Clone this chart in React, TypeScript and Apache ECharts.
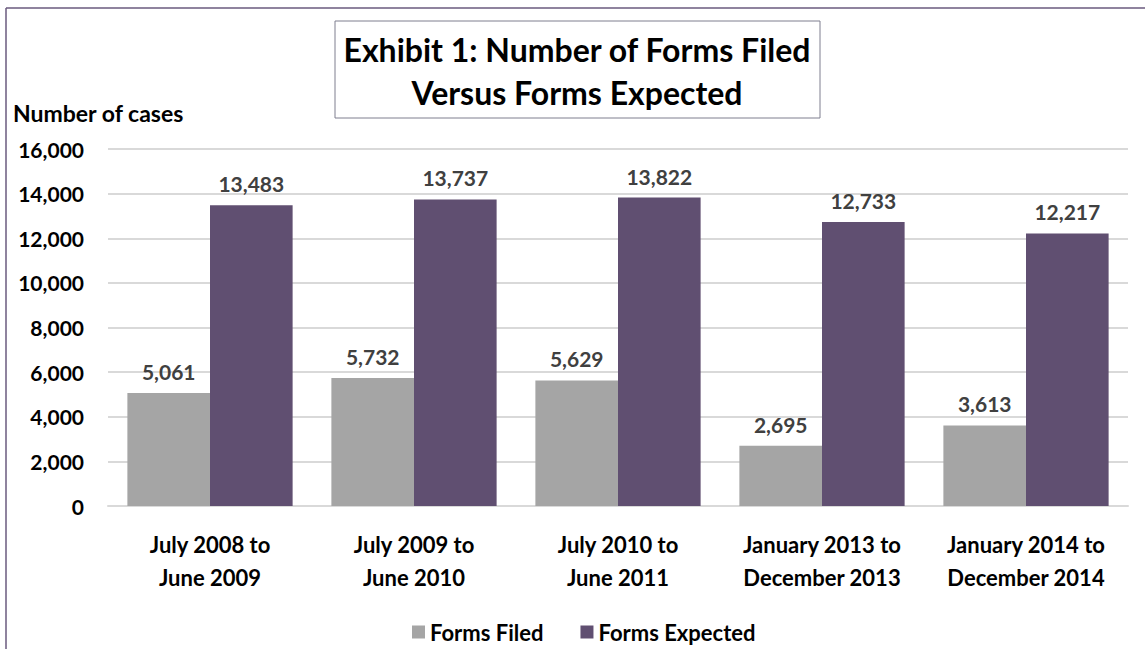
import React, { useEffect, useRef } from "react";
import * as echarts from "echarts";

const categories = [
  "July 2008 to\nJune 2009",
  "July 2009 to\nJune 2010",
  "July 2010 to\nJune 2011",
  "January 2013 to\nDecember 2013",
  "January 2014 to\nDecember 2014",
];
const formsFiled = [5061, 5732, 5629, 2695, 3613];
const formsExpected = [13483, 13737, 13822, 12733, 12217];
const seriesNames = ["Forms Filed", "Forms Expected"];
const titleLines = ["Exhibit 1: Number of Forms Filed", "Versus Forms Expected"];
const yAxisTitle = "Number of cases";

const FONT = "Lato, 'Open Sans', sans-serif";

export default function App() {
  const ref = useRef<HTMLDivElement>(null);
  useEffect(() => {
    if (!ref.current) return;
    const chart = echarts.init(ref.current, null, { renderer: "svg" });
    const fmt = (v: number) => v.toLocaleString("en-US");
    const labelCfg = {
      show: true,
      position: "top",
      distance: 11,
      color: "#404040",
      fontFamily: FONT,
      fontWeight: "bold",
      fontSize: 21,
      formatter: (p: any) => fmt(p.value),
    };
    chart.setOption({
      animation: false,
      backgroundColor: "#ffffff",
      textStyle: { fontFamily: FONT },
      grid: { left: 108, right: 17, top: 149, bottom: 143, containLabel: false },
      xAxis: {
        type: "category",
        data: categories,
        axisLine: { show: true, lineStyle: { color: "#D9D9D9", width: 2 } },
        axisTick: { show: false },
        axisLabel: {
          color: "#000000",
          fontFamily: FONT,
          fontWeight: "bold",
          fontSize: 22,
          lineHeight: 33,
          margin: 22,
          interval: 0,
        },
      },
      yAxis: {
        type: "value",
        min: 0,
        max: 16000,
        interval: 2000,
        axisLine: { show: false },
        axisTick: { show: false },
        splitLine: { lineStyle: { color: "#D9D9D9", width: 2 } },
        axisLabel: {
          color: "#000000",
          fontFamily: FONT,
          fontWeight: "bold",
          fontSize: 21,
          margin: 24,
          formatter: (v: number) => fmt(v),
        },
      },
      legend: {
        left: 407,
        top: 616,
        itemWidth: 13,
        itemHeight: 13,
        itemGap: 37,
        icon: "rect",
        textStyle: { color: "#000000", fontFamily: FONT, fontWeight: "bold", fontSize: 22 },
        data: seriesNames,
      },
      graphic: [
        {
          type: "line",
          shape: { x1: 6, y1: 8, x2: 1145, y2: 8 },
          style: { stroke: "#6A5A7E", lineWidth: 1.5 },
        },
        {
          type: "line",
          shape: { x1: 6, y1: 8, x2: 6, y2: 649 },
          style: { stroke: "#6A5A7E", lineWidth: 1.5 },
        },
        {
          type: "rect",
          shape: { x: 335, y: 21, width: 485, height: 97 },
          style: { fill: "#ffffff", stroke: "#7F7F8F", lineWidth: 1 },
        },
        {
          type: "text",
          x: 577,
          y: 28,
          style: {
            text: titleLines.join("\n"),
            textAlign: "center",
            fontFamily: FONT,
            fontWeight: "bold",
            fontSize: 32,
            lineHeight: 43,
            fill: "#000000",
          },
        },
        {
          type: "text",
          x: 13,
          y: 113,
          style: {
            text: yAxisTitle,
            textVerticalAlign: "middle",
            fontFamily: FONT,
            fontWeight: "bold",
            fontSize: 23,
            fill: "#000000",
          },
        },
      ],
      series: [
        {
          name: seriesNames[0],
          type: "bar",
          data: formsFiled,
          itemStyle: { color: "#A5A5A5" },
          barGap: "0%",
          barCategoryGap: "19%",
          label: labelCfg,
        },
        {
          name: seriesNames[1],
          type: "bar",
          data: formsExpected,
          itemStyle: { color: "#604F71" },
          barGap: "0%",
          barCategoryGap: "19%",
          label: labelCfg,
        },
      ],
    });
    return () => chart.dispose();
  }, []);
  return (
    <div
      ref={ref}
      style={{ position: "fixed", left: 0, top: 0, width: 1145, height: 649 }}
    />
  );
}
